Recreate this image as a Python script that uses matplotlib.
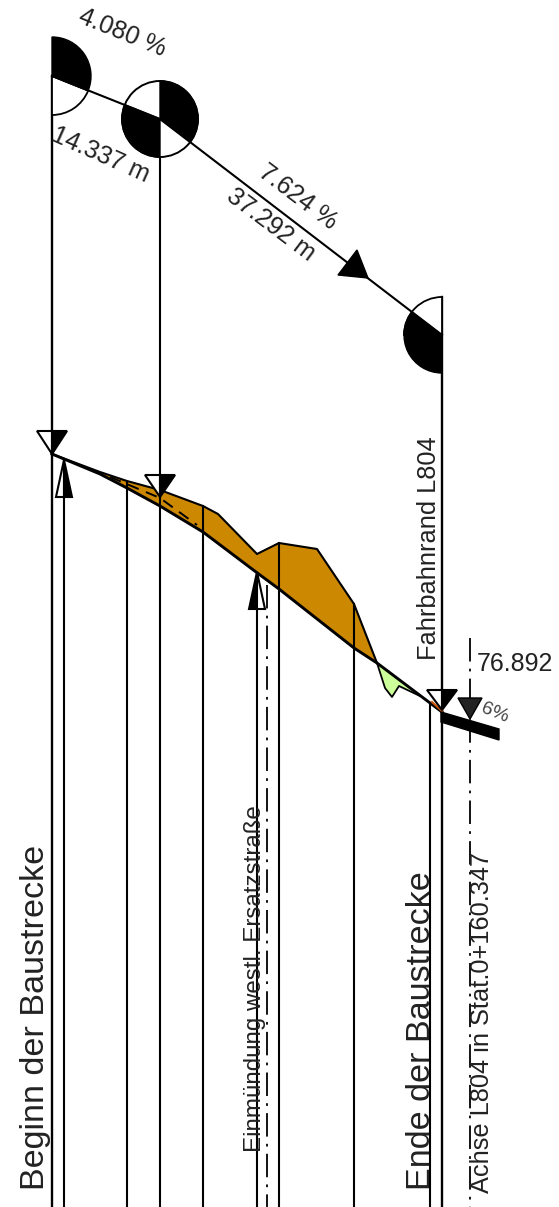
import matplotlib.pyplot as plt
from matplotlib.patches import Circle, Wedge, Polygon

# section positions and terrain (drawing units, y down)
stations = [127, 203, 279, 354, 430]
station_tops = [482, 506, 543, 604, 703]

ground_x = [52, 100, 127, 160, 203, 256, 279, 354, 377, 442]
ground_y = [454, 474, 488, 506, 532, 572, 589, 648, 663, 712]

fill_top_x = [52, 100, 127, 160, 203, 218, 257, 279, 317, 354, 377]
fill_top_y = [454, 472, 481, 490, 506, 514, 554, 543, 549, 604, 663]

cut_x = [377, 385, 392, 399, 420]
cut_y = [663, 688, 697, 686, 696]

dash_x = [110, 160, 197]
dash_y = [477, 498, 525]

grade_x = [52, 160, 442]
grade_y = [76, 119, 335]


def tri_down(ax, x, tip, top, half=15):
    ax.add_patch(Polygon([(x - half, top), (x, top), (x, tip)], fc="white", ec="black", lw=1.5, zorder=5))
    ax.add_patch(Polygon([(x, top), (x + half, top), (x, tip)], fc="black", ec="black", lw=1.5, zorder=5))


def arrow_up(ax, x, tip, base, black_side, half=8):
    left = "black" if black_side == "left" else "white"
    right = "black" if black_side == "right" else "white"
    ax.add_patch(Polygon([(x - half, base), (x, base), (x, tip)], fc=left, ec="black", lw=1.5, zorder=5))
    ax.add_patch(Polygon([(x, base), (x + half, base), (x, tip)], fc=right, ec="black", lw=1.5, zorder=5))


def main():
    plt.rcParams["font.family"] = ["Liberation Sans", "DejaVu Sans"]
    fig = plt.figure(figsize=(5.59, 12.07), dpi=100)
    ax = fig.add_axes([0, 0, 1, 1])
    ax.set_xlim(0, 559)
    ax.set_ylim(1207, 0)
    ax.axis("off")

    # verticals
    ax.plot([52, 52], [76, 1207], color="black", lw=1.7)
    ax.plot([160, 160], [119, 1207], color="black", lw=1.5)
    ax.plot([442, 442], [297, 1207], color="black", lw=1.7)
    ax.plot([64, 64], [470, 1207], color="black", lw=1.5)
    ax.plot([257, 257], [575, 1207], color="black", lw=1.5)
    for x, top in zip(stations, station_tops):
        ax.plot([x, x], [top, 1207], color="black", lw=1.5, zorder=4)
    dashdot = (0, (13, 4, 1.5, 4))
    ax.plot([267, 267], [585, 1207], color="black", lw=1.3, ls=dashdot)
    ax.plot([470, 470], [638, 1207], color="black", lw=1.3, ls=dashdot)

    # curvature circles on the grade line, y axis is inverted so angles run clockwise
    ax.add_patch(Wedge((52, 76), 39, 22, 90, fc="white", ec="black", lw=1.3, zorder=2))
    ax.add_patch(Wedge((52, 76), 39, -90, 22, fc="black", ec="black", lw=1, zorder=3))

    ax.add_patch(Circle((160, 119), 38, fc="white", ec="black", lw=1.4, zorder=2))
    ax.add_patch(Wedge((160, 119), 38, -90, 37, fc="black", ec="black", lw=1, zorder=3))
    ax.add_patch(Wedge((160, 119), 38, 90, 202, fc="black", ec="black", lw=1, zorder=3))

    ax.add_patch(Wedge((442, 335), 38, 180, 270, fc="white", ec="black", lw=1.3, zorder=2))
    ax.add_patch(Wedge((442, 335), 38, 90, 217, fc="black", ec="black", lw=1, zorder=3))

    ax.plot(grade_x, grade_y, color="black", lw=1.5, zorder=4)
    ax.add_patch(Polygon([(338, 275), (357, 250), (368, 278)], fc="black", ec="black", lw=1, zorder=5))

    # terrain
    ax.fill(fill_top_x + ground_x[-2::-1][:-1] + [52],
            fill_top_y + ground_y[-2::-1][:-1] + [454],
            fc="#cc8800", ec="none", zorder=1)
    ax.plot(fill_top_x, fill_top_y, color="black", lw=1.5, zorder=3)
    ax.fill(cut_x, cut_y, fc="#ccff99", ec="none", zorder=1)
    ax.plot(cut_x, cut_y, color="black", lw=1.3, zorder=3)
    ax.plot(ground_x, ground_y, color="black", lw=2.1, zorder=3)
    ax.plot(dash_x, dash_y, color="black", lw=1.4, ls=(0, (6, 4)), zorder=3)
    ax.plot([432, 442], [702, 711], color="#cc5500", lw=1.5, zorder=3)

    # markers
    tri_down(ax, 52, 454, 431)
    tri_down(ax, 160, 497, 475)
    tri_down(ax, 442, 710, 690)
    ax.add_patch(Polygon([(458, 698), (482, 698), (470, 719)], fc="#222222", ec="black", lw=1, zorder=5))
    arrow_up(ax, 64, 460, 497, "right")
    arrow_up(ax, 257, 572, 609, "left")

    # road surface
    ax.add_patch(Polygon([(441, 712), (441, 722), (499, 740), (499, 729)], fc="black", ec="black", lw=1, zorder=6))

    # text
    tc = "#222222"
    ax.text(122, 33, "4.080 %", fontsize=18, rotation=-22, ha="center", va="center", color=tc)
    ax.text(101, 155, "14.337 m", fontsize=18, rotation=-24, ha="center", va="center", color=tc)
    ax.text(298, 197, "7.624 %", fontsize=18, rotation=-37, ha="center", va="center", color=tc)
    ax.text(271, 225, "37.292 m", fontsize=18, rotation=-37, ha="center", va="center", color=tc)
    ax.text(495, 713, "6%", fontsize=14, rotation=-22, ha="center", va="center", color="#444444", zorder=7)
    ax.text(477, 664, "76.892", fontsize=18, ha="left", va="center", color=tc)

    ax.text(36, 1190, "Beginn der Baustrecke", fontsize=24.6, rotation=90, ha="center", va="bottom", color=tc)
    ax.text(421, 1190, "Ende der Baustrecke", fontsize=24.6, rotation=90, ha="center", va="bottom", color=tc)
    ax.text(429, 660, "Fahrbahnrand L804", fontsize=18.3, rotation=90, ha="center", va="bottom", color=tc)
    ax.text(255, 1152, "Einmündung westl. Ersatzstraße", fontsize=17.4, rotation=90, ha="center", va="bottom", color=tc)
    ax.text(482, 1193, "Achse L804 in Stat.0+160.347", fontsize=18.3, rotation=90, ha="center", va="bottom", color=tc)

    fig.savefig("out.png", dpi=100)


if __name__ == "__main__":
    main()
